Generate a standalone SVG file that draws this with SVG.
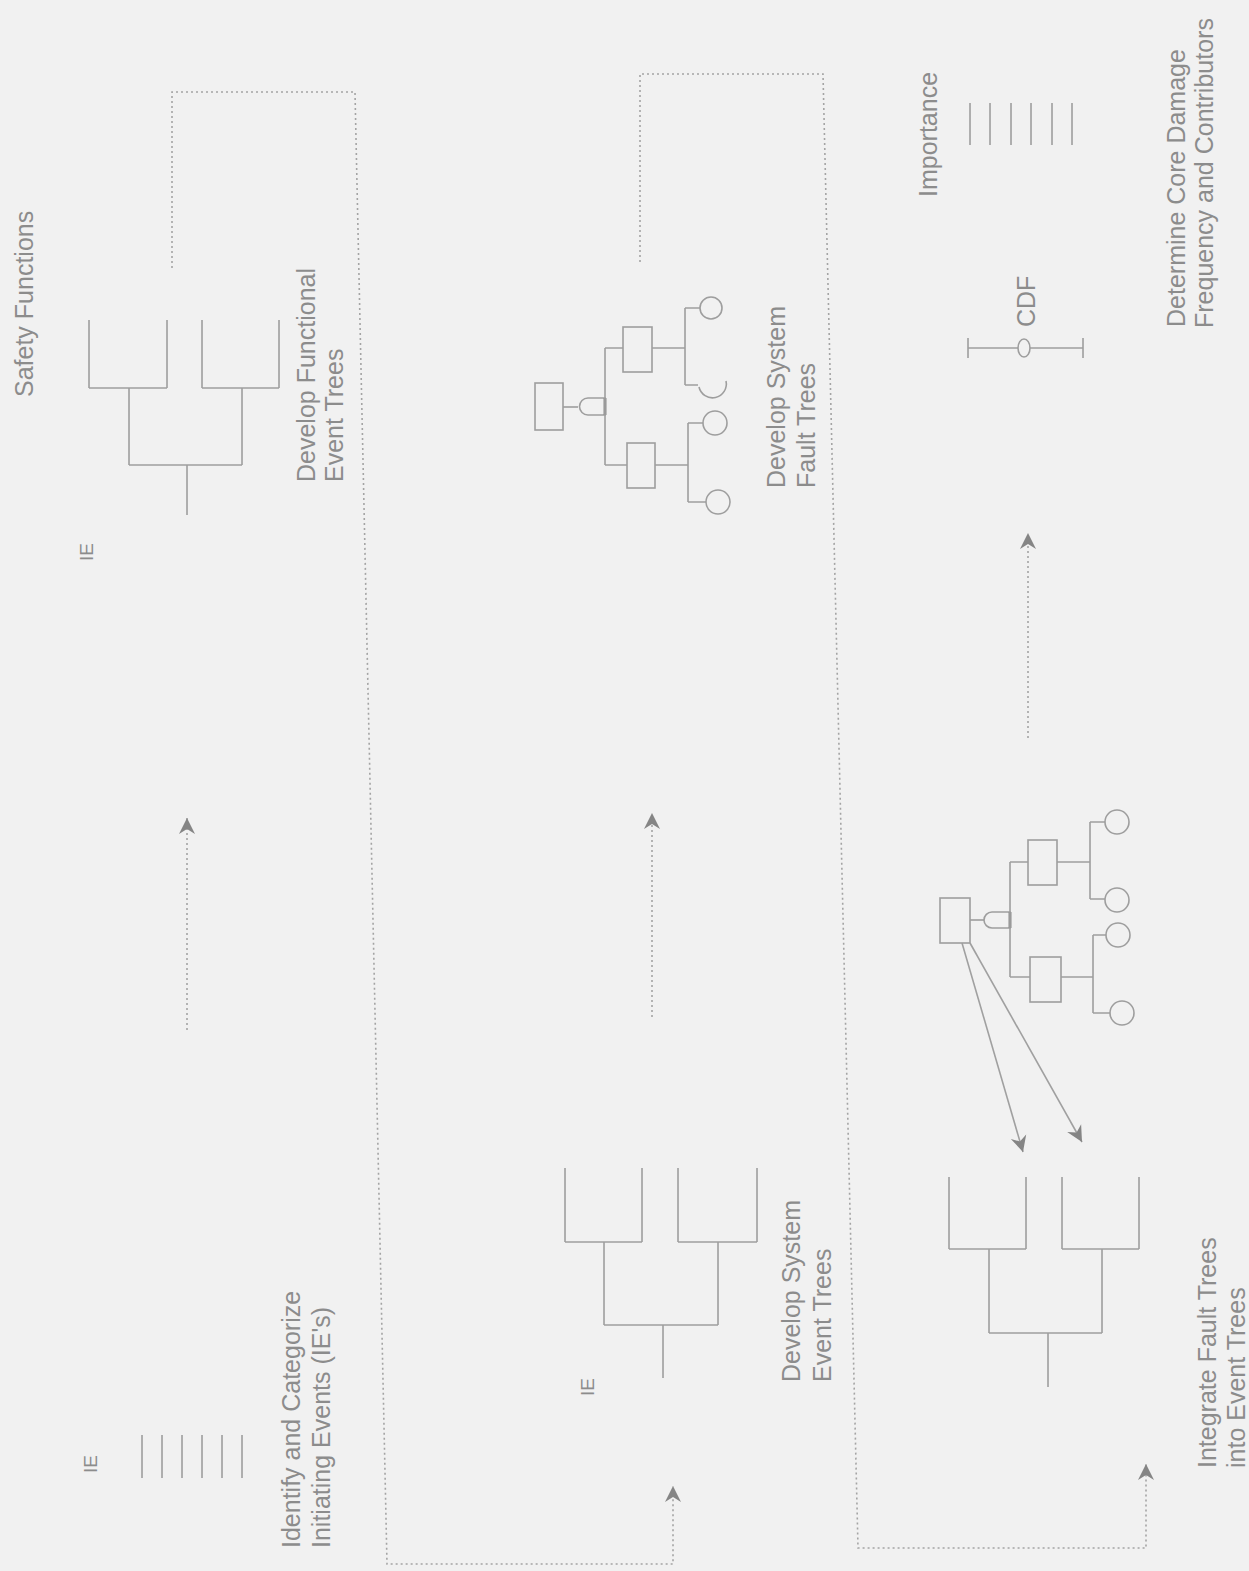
<svg xmlns="http://www.w3.org/2000/svg" width="1249" height="1571" viewBox="0 0 1249 1571">
<defs>
<marker id="chev" viewBox="-17 -9 19 18" markerWidth="19" markerHeight="18" refX="0" refY="0" orient="auto" markerUnits="userSpaceOnUse">
<path d="M0,0 L-16,-8 L-11,0 L-16,8 Z" fill="#858585"/>
</marker>
<style>
.ln{fill:none;stroke:#9e9e9e;stroke-width:1.6}
.thk{fill:none;stroke:#8a8a8a;stroke-width:3}
.dot{fill:none;stroke:#a4a4a4;stroke-width:1.6;stroke-dasharray:2 3}
.arr{fill:none;stroke:#a0a0a0;stroke-width:1.6}
.t{font-family:"Liberation Sans",Arial,sans-serif;font-size:25px;fill:#8c8c8c}
.ie{font-family:"Liberation Sans",Arial,sans-serif;font-size:19px;fill:#8c8c8c}
.bg{fill:#f1f1f1;stroke:#9e9e9e;stroke-width:1.6}
</style>
</defs>
<rect width="1249" height="1571" fill="#f1f1f1"/>

<g id="connectors">
<polyline class="dot" points="172,268 172,92 355,92 387,1564 673,1564 673,1486" marker-end="url(#chev)"/>
<polyline class="dot" points="640,262 640,74 823,74 858,1548 1146,1548 1146,1464" marker-end="url(#chev)"/>
<line class="dot" x1="187" y1="1030" x2="187" y2="818" marker-end="url(#chev)"/>
<line class="dot" x1="652" y1="1017" x2="652" y2="813" marker-end="url(#chev)"/>
<line class="dot" x1="1028" y1="738" x2="1028" y2="533" marker-end="url(#chev)"/>
<line class="arr" x1="962" y1="943" x2="1023" y2="1152" marker-end="url(#chev)"/>
<line class="arr" x1="970" y1="943" x2="1082" y2="1142" marker-end="url(#chev)"/>
</g>

<g id="identify-ies">
<text class="ie" transform="translate(97,1473) rotate(-90)">IE</text>
<path class="ln" d="M142,1435V1478M162,1435V1478M182,1435V1478M202,1435V1478M222,1435V1478M242,1435V1478"/>
<text class="t" transform="translate(300,1548) rotate(-90)">Identify and Categorize</text>
<text class="t" transform="translate(330,1548) rotate(-90)">Initiating Events (IE's)</text>
</g>

<g id="functional-event-trees">
<text class="t" transform="translate(33,397) rotate(-90)">Safety Functions</text>
<text class="ie" transform="translate(93,561) rotate(-90)">IE</text>
<path class="ln" d="M187,515V465M129,465H242M129,465V388M242,465V388M89,388H167M202,388H279M89,388V320M167,388V320M202,388V320M279,388V320"/>
<text class="t" transform="translate(315,482) rotate(-90)">Develop Functional</text>
<text class="t" transform="translate(343,482) rotate(-90)">Event Trees</text>
</g>

<g id="system-fault-trees">
<rect class="ln" x="535" y="383" width="28" height="47"/>
<line class="ln" x1="563" y1="407" x2="578" y2="407"/>
<path class="ln" d="M605,398 L588,398 A8.5,8.5 0 0 0 588,415 L605,415 Z"/>
<line class="thk" x1="605" y1="398" x2="605" y2="415"/>
<path class="ln" d="M605,348V465M605,348H623M605,465H627"/>
<rect class="ln" x="623" y="327" width="29" height="45"/>
<rect class="ln" x="627" y="443" width="28" height="45"/>
<path class="ln" d="M652,348H685M685,308V385M685,308H700M685,385H698"/>
<circle class="ln" cx="711" cy="308" r="11"/>
<path class="ln" d="M699,387 A13,13 0 0 0 726,381"/>
<path class="ln" d="M655,465H688M688,423V502M688,423H703M688,502H706"/>
<circle class="ln" cx="715" cy="423" r="12"/>
<circle class="ln" cx="718" cy="502" r="12"/>
<text class="t" transform="translate(785,488) rotate(-90)">Develop System</text>
<text class="t" transform="translate(815,488) rotate(-90)">Fault Trees</text>
</g>

<g id="system-event-trees">
<text class="ie" transform="translate(594,1396) rotate(-90)">IE</text>
<path class="ln" d="M663,1378V1325M604,1325H718M604,1325V1242M718,1325V1242M565,1242H642M678,1242H757M565,1242V1168M642,1242V1168M678,1242V1168M757,1242V1168"/>
<text class="t" transform="translate(800,1382) rotate(-90)">Develop System</text>
<text class="t" transform="translate(831,1382) rotate(-90)">Event Trees</text>
</g>

<g id="integrate-trees">
<rect class="ln" x="940" y="898" width="30" height="45"/>
<line class="ln" x1="970" y1="920" x2="984" y2="920"/>
<path class="ln" d="M1010,912 L992,912 A8,8 0 0 0 992,928 L1010,928 Z"/>
<line class="thk" x1="1010" y1="912" x2="1010" y2="928"/>
<path class="ln" d="M1010,862V977M1010,862H1028M1010,977H1030"/>
<rect class="ln" x="1028" y="840" width="29" height="45"/>
<rect class="ln" x="1030" y="957" width="31" height="45"/>
<path class="ln" d="M1057,862H1090M1090,822V899M1090,822H1105M1090,899H1105"/>
<circle class="ln" cx="1117" cy="822" r="12"/>
<circle class="ln" cx="1117" cy="900" r="12"/>
<path class="ln" d="M1061,977H1093M1093,935V1013M1093,935H1106M1093,1013H1110"/>
<circle class="ln" cx="1118" cy="935" r="12"/>
<circle class="ln" cx="1122" cy="1013" r="12"/>
<path class="ln" d="M1048,1387V1333M989,1333H1102M989,1333V1249M1102,1333V1249M949,1249H1026M1062,1249H1139M949,1249V1177M1026,1249V1177M1062,1249V1177M1139,1249V1177"/>
<text class="t" transform="translate(1216,1468) rotate(-90)">Integrate Fault Trees</text>
<text class="t" transform="translate(1245,1468) rotate(-90)">into Event Trees</text>
</g>

<g id="core-damage-frequency">
<text class="t" transform="translate(937,197) rotate(-90)">Importance</text>
<path class="ln" d="M970,103V145M990,103V145M1011,103V145M1031,103V145M1052,103V145M1072,103V145"/>
<path class="ln" d="M968,348H1083M968,338V358M1083,338V358"/>
<ellipse class="bg" cx="1024" cy="348" rx="6" ry="9"/>
<text class="t" transform="translate(1035,327) rotate(-90)">CDF</text>
<text class="t" transform="translate(1185,327) rotate(-90)">Determine Core Damage</text>
<text class="t" transform="translate(1213,328) rotate(-90)">Frequency and Contributors</text>
</g>
</svg>
